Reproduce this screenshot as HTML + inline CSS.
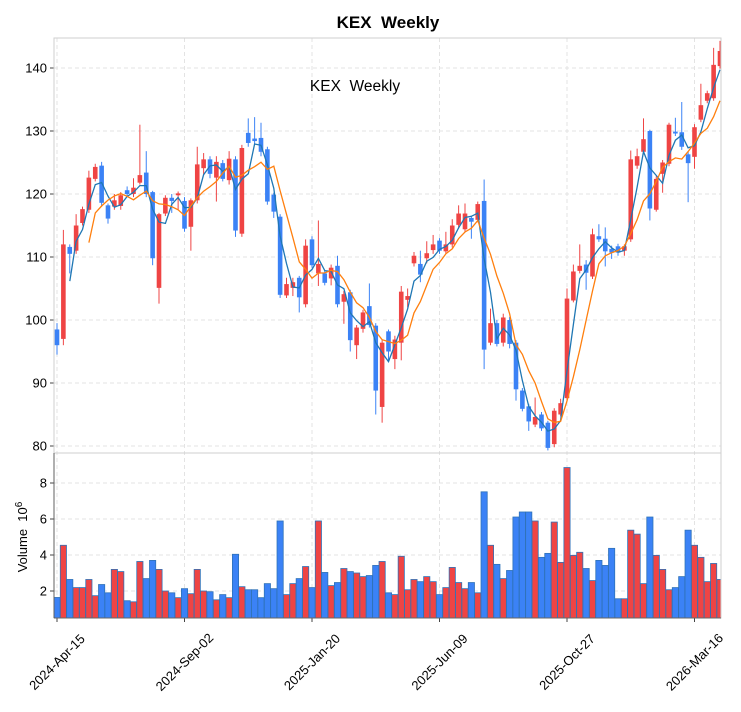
<!DOCTYPE html>
<html><head><meta charset="utf-8"><style>
html,body{margin:0;padding:0;background:#fff;}
svg{display:block;font-family:"Liberation Sans","DejaVu Sans",sans-serif;}
</style></head><body>
<svg id="s" width="741" height="712" xmlns="http://www.w3.org/2000/svg"></svg>
<script>
const D=[[98.5,96,99.5,94.5],[97,112,114.3,96],[111.6,110.5,112,107.4],[111,115,116.8,110.5],[115.4,117.6,118,115],[117.5,122.6,123.7,117],[122.4,124.3,124.8,122],[124.5,118.6,125.1,118],[118.2,116.1,118.5,115.3],[118,119,120,117.5],
[118.1,119.8,120.3,117.5],[120.6,120,121.2,119.5],[120,121,122.5,119.5],[121.8,123,131,121.5],[123.4,120,126.8,119.5],[120.3,109.8,120.5,108.7],[105.1,116.8,117,102.6],[116.9,119.4,119.8,116.5],[119.4,118.9,120,117],[119.8,120.1,120.4,117.5],
[118.9,114.5,119.5,114],[114.8,119,119.3,111],[119,124.7,127.5,118.5],[124.1,125.5,126.5,123],[125.5,123.2,126,122.5],[122.6,125.1,126,118.8],[124.9,122.4,125.4,122],[122.2,125.6,126.8,121.5],[125.5,114.2,126,113.2],[113.7,127.3,127.8,113.2],
[129.7,128.1,132,127.5],[128.8,128.4,132.2,127.8],[128.9,126.7,131.3,126],[127.1,118.8,127.5,118.3],[119.9,117.2,120.2,116.2],[116.4,104,116.8,103.5],[103.9,105.7,106.7,103.5],[105.1,106,106.7,103.8],[106.7,103.6,107,101.2],[102.5,111.8,112.8,102],
[112.8,108.7,113.3,108.3],[107.4,108.9,115.8,105.4],[107.4,105.9,107.8,105.5],[106.6,108.3,108.8,105.5],[108.6,102.5,110.2,102],[102.9,104.1,104.6,99.4],[104.4,96.8,104.8,95],[96,98.8,99.2,93.8],[98.6,101.2,101.6,98],[102.2,99.2,105.8,98.8],
[99.1,88.8,99.5,85],[86.2,96.4,96.8,83.7],[98.2,95,98.5,93.5],[93.8,96.9,97.5,92.2],[96.4,104.5,105.4,93.6],[103.2,103.8,105,102],[109,110.2,110.8,108.5],[108.9,107.2,111,106],[109.8,110.6,112.5,109],[111.1,112,113.5,110.5],
[112.6,111,113,110.5],[110.9,112,114,110.5],[112,115,116,111.5],[115.1,116.9,118.2,114.5],[114.4,116.9,118.5,114],[116.2,115.6,116.5,112.9],[115.9,118.4,118.8,115.5],[118.9,95.3,122.3,92.2],[96.4,99.5,101.8,96],[99.5,96.2,100,95.8],
[96.4,100.4,101,95.8],[100,96.2,100.5,95.5],[96.4,89,96.8,87.2],[88.8,85.9,89.2,85.5],[86.3,83.9,86.7,82.4],[83.4,84.6,87.7,83],[85,82.8,85.4,82.4],[83.7,79.7,84,79.3],[80.3,85.6,86,79.8],[85,86.8,87.5,84.7],
[87.6,103.4,105,87.2],[103.1,107.7,108.8,102.8],[107.8,108.6,112,107.4],[108.8,107.5,109.5,104.8],[106.9,113.6,114.5,106.5],[113.3,112.8,115.2,112.4],[112.9,110.9,114.7,108.5],[111.3,110.7,111.8,109.7],[111.7,110.7,112.1,110.2],[111,111.7,112,110.2],
[112.8,125.5,126.9,112.4],[124.5,126,127.2,124],[126.7,128.7,132,126.3],[130,117.7,130.2,115.8],[117.5,122.4,122.8,117.2],[123.2,125,125.4,120.2],[124.8,131,131.3,124.4],[129.9,129.6,132.1,129.2],[129.8,127.5,134.6,127],[126.3,124.9,126.7,118.7],
[125.9,130.6,131.1,124],[131.8,134.1,137.5,131.4],[134.8,136,136.4,134.4],[135.2,140.5,143.2,134.8],[140.3,142.7,144.3,139.9]];
const V=[1.64,4.54,2.64,2.19,2.19,2.64,1.74,2.36,1.9,3.2,3.08,1.46,1.4,3.64,2.69,3.7,3.2,2.0,1.9,1.63,2.13,1.85,3.2,2.0,1.96,1.51,1.8,1.63,4.04,2.24,2.07,2.07,1.63,2.41,2.13,5.89,1.8,2.41,2.69,3.36,2.19,5.89,3.03,2.3,2.47,3.25,3.08,3.0,2.8,2.86,3.42,3.64,1.9,1.8,3.93,2.07,2.64,2.52,2.8,2.52,1.8,2.19,3.31,2.47,2.13,2.47,1.9,7.51,4.54,3.48,2.69,3.14,6.11,6.39,6.39,5.89,3.87,4.09,5.83,3.59,8.86,3.98,4.15,3.25,2.58,3.7,3.42,4.37,1.57,1.57,5.38,5.16,2.41,6.11,3.98,3.2,2.07,2.19,2.8,5.38,4.54,3.87,2.52,3.53,2.64];
const X=i=>57+6.375*i, Y=p=>446-(p-80)*6.3, VY=v=>627-v*18;
const RED="#ef4444",BLUE="#3b82f6";
let s='';
s+='<defs><clipPath id="cm"><rect x="54" y="38" width="667" height="415"/></clipPath><clipPath id="cv"><rect x="54" y="453" width="667" height="165"/></clipPath></defs>';
s+='<text x="388" y="28" text-anchor="middle" font-size="17" font-weight="bold">KEX&#160; Weekly</text>';
const g='stroke="#e3e3e3" stroke-width="1" stroke-dasharray="4,3"';
for(let p=80;p<=140;p+=10){const y=Y(p);s+=`<line x1="54" x2="721" y1="${y}" y2="${y}" ${g}/><line x1="50" x2="54" y1="${y}" y2="${y}" stroke="#444"/><text x="47" y="${y+4.5}" text-anchor="end" font-size="13">${p}</text>`;}
for(let v=2;v<=8;v+=2){const y=VY(v);s+=`<line x1="54" x2="721" y1="${y}" y2="${y}" ${g}/><line x1="50" x2="54" y1="${y}" y2="${y}" stroke="#444"/><text x="47" y="${y+4.5}" text-anchor="end" font-size="13">${v}</text>`;}
const L=["2024-Apr-15","2024-Sep-02","2025-Jan-20","2025-Jun-09","2025-Oct-27","2026-Mar-16"];
L.forEach((t,k)=>{const x=X(k*20);s+=`<line x1="${x}" x2="${x}" y1="38" y2="618" ${g}/><line x1="${x}" x2="${x}" y1="618" y2="622" stroke="#444"/><text transform="translate(${x},662) rotate(-45)" text-anchor="middle" dy="4.5" font-size="13">${t}</text>`;});
s+='<g clip-path="url(#cv)">';
V.forEach((v,i)=>{const d=D[i];const c=d[1]>=d[0]?RED:BLUE;const y=VY(v);s+=`<rect x="${X(i)-3.1}" y="${y}" width="6.2" height="${618-y}" fill="${c}" stroke="#2f72b8" stroke-width="0.8"/>`;});
s+='</g>';
s+='<g clip-path="url(#cm)">';
D.forEach((d,i)=>{const[o,c,h,l]=d;const col=c>=o?RED:BLUE;const x=X(i);s+=`<line x1="${x}" x2="${x}" y1="${Y(h)}" y2="${Y(l)}" stroke="${col}" stroke-width="1"/>`;const t=Y(Math.max(o,c)),b=Y(Math.min(o,c));s+=`<rect x="${x-2.3}" y="${t}" width="4.6" height="${Math.max(b-t,1)}" fill="${col}"/>`;});
function ma(n,col){let pts=[];for(let i=n-1;i<D.length;i++){let a=0;for(let j=i-n+1;j<=i;j++)a+=D[j][1];pts.push(X(i).toFixed(1)+','+Y(a/n).toFixed(1));}return `<polyline points="${pts.join(' ')}" fill="none" stroke="${col}" stroke-width="1.3"/>`;}
s+=ma(3,"#1f77b4")+ma(6,"#ff7f0e");
s+='</g>';
s+='<text x="355" y="91" text-anchor="middle" font-size="15.5">KEX&#160; Weekly</text>';
s+='<rect x="54" y="38" width="667" height="415" fill="none" stroke="#cfcfcf"/><rect x="54" y="453" width="667" height="165" fill="none" stroke="#cfcfcf"/>';
s+='<line x1="54" x2="54" y1="453" y2="618" stroke="#444" stroke-width="0.8"/><line x1="54" x2="721" y1="618" y2="618" stroke="#444" stroke-width="0.8"/>';
s+='<text transform="translate(27,537) rotate(-90)" text-anchor="middle" font-size="13">Volume&#160; 10<tspan dy="-5" font-size="10">6</tspan></text>';
document.getElementById('s').innerHTML=s;
</script>
</body></html>
